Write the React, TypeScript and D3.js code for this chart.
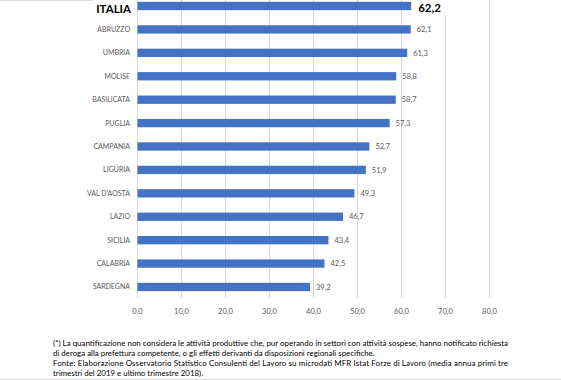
import React from "react";
import * as d3 from "d3";

const regions = ["ITALIA", "ABRUZZO", "UMBRIA", "MOLISE", "BASILICATA", "PUGLIA", "CAMPANIA", "LIGURIA", "VAL D'AOSTA", "LAZIO", "SICILIA", "CALABRIA", "SARDEGNA"];
const values = [62.2, 62.1, 61.3, 58.8, 58.7, 57.3, 52.7, 51.9, 49.3, 46.7, 43.4, 42.5, 39.2];
const ticks = [0, 10, 20, 30, 40, 50, 60, 70, 80];
const footnote = [
  "(*) La quantificazione non considera le attività produttive che, pur operando in settori con attività sospese, hanno notificato richiesta",
  "di deroga alla prefettura competente, o gli effetti derivanti da disposizioni regionali specifiche.",
  "Fonte: Elaborazione Osservatorio Statistico Consulenti del Lavoro su microdati MFR Istat Forze di Lavoro (media annua primi tre",
  "trimestri del 2019 e ultimo trimestre 2018).",
];
const justified = [true, false, true, false];

const W = 561;
const H = 380;
const FONT = "Lato, 'Open Sans', sans-serif";

export default function App() {
  const x = d3.scaleLinear().domain([0, 80]).range([137.5, 489.5]);
  const y = d3
    .scaleBand<string>()
    .domain(regions)
    .range([-5.7, 298.7])
    .paddingInner(0.645)
    .paddingOuter(0.3225);
  const fmt = (v: number) => v.toFixed(1).replace(".", ",");
  const gridBottom = 298;
  const textLeft = 53;
  const textRight = 508;
  const lineY = d3.scaleLinear().domain([0, 3]).range([346, 376]);

  return (
    <svg
      width={W}
      height={H}
      style={{ position: "absolute", left: 0, top: 0, background: "#fff" }}
      fontFamily={FONT}
    >
      <rect x={0} y={0} width={W} height={H} fill="#fff" />
      <line x1={0} x2={93} y1={0.5} y2={0.5} stroke="#dcdcdc" />
      <line x1={0} x2={W} y1={379.5} y2={379.5} stroke="#dcdcdc" />
      {ticks.map((t) => (
        <g key={t}>
          <line x1={x(t)} x2={x(t)} y1={0} y2={gridBottom} stroke="#d9d9d9" strokeWidth={1} />
          <text x={x(t)} y={314} textAnchor="middle" fontSize={7.5} fill="#595959">
            {fmt(t)}
          </text>
        </g>
      ))}
      {regions.map((r, i) => {
        const top = y(r)!;
        const bw = y.bandwidth();
        const cy = top + bw / 2;
        const isIt = i === 0;
        const endX = x(values[i]);
        return (
          <g key={r}>
            <rect x={x(0)} y={top} width={endX - x(0)} height={bw} fill="#4472C4" />
            {isIt ? (
              <>
                <rect x={endX + 3} y={0} width={34} height={15} fill="#fff" />
                <text x={endX + 7} y={cy + 5.7} fontSize={11.5} fontWeight={700} fill="#000">
                  {fmt(values[i])}
                </text>
                <text x={131} y={cy + 7.3} textAnchor="end" fontSize={11.5} fontWeight={700} fill="#000">
                  {r}
                </text>
              </>
            ) : (
              <>
                <text x={endX + 6} y={cy + 2.7} fontSize={7.5} fill="#595959">
                  {fmt(values[i])}
                </text>
                <text x={130} y={cy + 2.5} textAnchor="end" fontSize={7} fill="#595959">
                  {r}
                </text>
              </>
            )}
          </g>
        );
      })}
      {footnote.map((l, i) => (
        <text
          key={i}
          x={textLeft}
          y={lineY(i)}
          fontSize={7.9}
          fill="#000"
          {...(justified[i] ? { textLength: textRight - textLeft, lengthAdjust: "spacing" } : {})}
        >
          {l}
        </text>
      ))}
    </svg>
  );
}
